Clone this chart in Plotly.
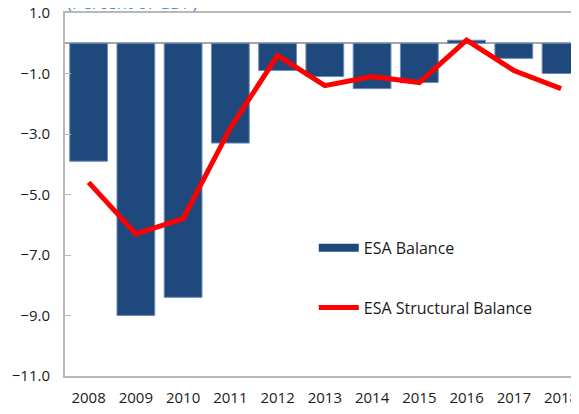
import plotly.graph_objs as go

years = ['2008', '2009', '2010', '2011', '2012', '2013', '2014', '2015', '2016', '2017', '2018']
esa_balance = [-3.9, -9.0, -8.4, -3.3, -0.9, -1.1, -1.5, -1.3, 0.1, -0.5, -1.0]
esa_structural = [-4.6, -6.3, -5.8, -2.8, -0.4, -1.4, -1.1, -1.3, 0.1, -0.9, -1.5]
y_ticks = [1, -1, -3, -5, -7, -9, -11]

bar_color = '#1f497d'
font_family = 'Open Sans, Noto Sans, sans-serif'

fig = go.Figure()

fig.add_trace(go.Bar(x=years, y=esa_balance, name='ESA Balance',
                     marker=dict(color=bar_color, line=dict(color='#6f8db3', width=1)),
                     width=0.8, showlegend=False))

# legend swatch for the bars, drawn as a wide stripe like the original
fig.add_trace(go.Scatter(x=[None], y=[None], mode='lines', name='ESA Balance',
                         line=dict(color=bar_color, width=8), legendgroup='a'))

fig.add_trace(go.Scatter(x=years, y=esa_structural, mode='lines', name='ESA Structural Balance',
                         line=dict(color='#ff0000', width=5), legendgroup='b'))

# subtitle sits mostly above the visible page, as in the source image
fig.add_annotation(text='(Percent of GDP)', xref='paper', yref='paper',
                   x=0.0, y=0.991, xanchor='left', yanchor='bottom',
                   showarrow=False, font=dict(size=17, color='#4a90d0', family=font_family))

# page body adds ~8px offset, so the figure is sized/margined to compensate
fig.update_layout(
    width=571, height=406,
    margin=dict(l=57, r=0, t=5, b=38, autoexpand=False),
    paper_bgcolor='white', plot_bgcolor='white',
    font=dict(family=font_family, size=15, color='#1a1a1a'),
    bargap=0.2,
    legend=dict(x=0.484, y=0.40, xanchor='left', yanchor='top',
                traceorder='grouped', tracegroupgap=36, itemwidth=40,
                font=dict(size=16), bgcolor='rgba(0,0,0,0)'),
    xaxis=dict(type='category', range=[-0.5, 10.38], showgrid=False,
               showline=True, linecolor='#b8b8b8', linewidth=2, mirror=True,
               ticks='', ticklabelstandoff=7, zeroline=False, automargin=False),
    yaxis=dict(range=[-11, 1], tickvals=y_ticks, tickformat='.1f', showgrid=False,
               showline=True, linecolor='#b8b8b8', linewidth=2, mirror=True,
               ticks='inside', ticklen=6, tickcolor='#b8b8b8',
               ticklabelstandoff=10, ticklabeloverflow='allow', automargin=False,
               zeroline=True, zerolinecolor='#a6a6a6', zerolinewidth=2),
)

fig.write_html("out.html")
